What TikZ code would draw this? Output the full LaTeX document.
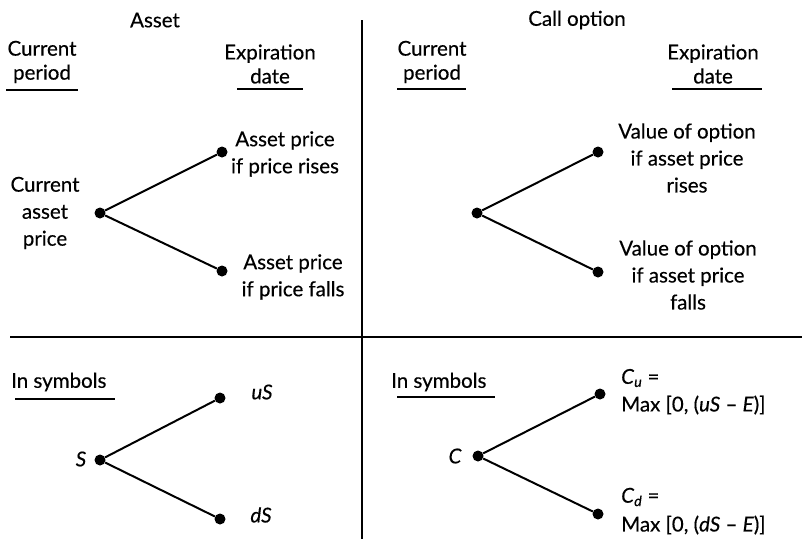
\documentclass[tikz,border=0pt]{standalone}
\usepackage{fontspec}
\setmainfont{Lato}[FakeBold=0.4]
\begin{document}
\begin{tikzpicture}[x=1pt,y=-1pt,
  txt/.style={inner sep=0pt,align=center,font=\fontsize{20.5}{27}\selectfont},
  hd/.style={txt,font=\fontsize{20.5}{24}\selectfont},
  dot/.style={circle,fill=black,inner sep=0pt,minimum size=11pt},
  edge/.style={line width=2pt},
  rule/.style={line width=1.2pt},
  uline/.style={line width=1.4pt}]
\useasboundingbox (0,0) rectangle (802,539);
% dividers
\draw[rule] (362,20) -- (362,539);
\draw[rule] (10,337) -- (802,337);
% headings top-left
\node[hd] (asset) at (155,20) {Asset};
\node[hd] (cp1) at (42,62) {Current\\period};
\node[hd] (ed1) at (270,64) {Expiration\\date};
\draw[uline] (6,90) -- (78,90);
\draw[uline] (237,89) -- (303,89);
% headings top-right
\node[hd] (call) at (577,20) {Call option};
\node[hd] (cp2) at (432,62) {Current\\period};
\node[hd] (ed2) at (713,64) {Expiration\\date};
\draw[uline] (397,89) -- (466,89);
\draw[uline] (672,89) -- (762,89);
% tree top-left
\node[dot] (a0) at (100,213) {};
\node[dot] (a1) at (222,152) {};
\node[dot] (a2) at (222,271) {};
\draw[edge] (a0) -- (a1);
\draw[edge] (a0) -- (a2);
\node[txt] (a0t) at (45,213) {Current\\asset\\price};
\node[txt] (a1t) at (285,154) {Asset price\\if price rises};
\node[txt] (a2t) at (293,277) {Asset price\\if price falls};
% tree top-right
\node[dot] (b0) at (477,213) {};
\node[dot] (b1) at (598,152) {};
\node[dot] (b2) at (598,272) {};
\draw[edge] (b0) -- (b1);
\draw[edge] (b0) -- (b2);
\node[txt] (b1t) at (687,158) {Value of option\\if asset price\\rises};
\node[txt] (b2t) at (688,275) {Value of option\\if asset price\\falls};
% bottom-left
\node[txt,anchor=west] (s1) at (11,382) {In symbols};
\draw[uline] (15,399) -- (115,399);
\node[dot] (c0) at (100,460) {};
\node[dot] (c1) at (220,398) {};
\node[dot] (c2) at (220,519) {};
\draw[edge] (c0) -- (c1);
\draw[edge] (c0) -- (c2);
\node[txt] (c0t) at (81,459) {\itshape S};
\node[txt] (c1t) at (262,392) {\itshape uS};
\node[txt] (c2t) at (261,515) {\itshape dS};
% bottom-right
\node[txt,anchor=west] (s2) at (391,382) {In symbols};
\draw[uline] (397,397) -- (495,397);
\node[dot] (d0) at (478,456) {};
\node[dot] (d1) at (600,394) {};
\node[dot] (d2) at (598,514) {};
\draw[edge] (d0) -- (d1);
\draw[edge] (d0) -- (d2);
\node[txt] (d0t) at (455,456) {\itshape C};
\node[txt,anchor=west] (d1a) at (621,378) {\textit{C}\textsubscript{\textit{u}} =};
\node[txt,anchor=west] (d1b) at (621,405) {Max [0, (\textit{uS} – \textit{E})]};
\node[txt,anchor=west] (d2a) at (621,497) {\textit{C}\textsubscript{\textit{d}} =};
\node[txt,anchor=west] (d2b) at (621,525) {Max [0, (\textit{dS} – \textit{E})]};
\end{tikzpicture}
\end{document}
